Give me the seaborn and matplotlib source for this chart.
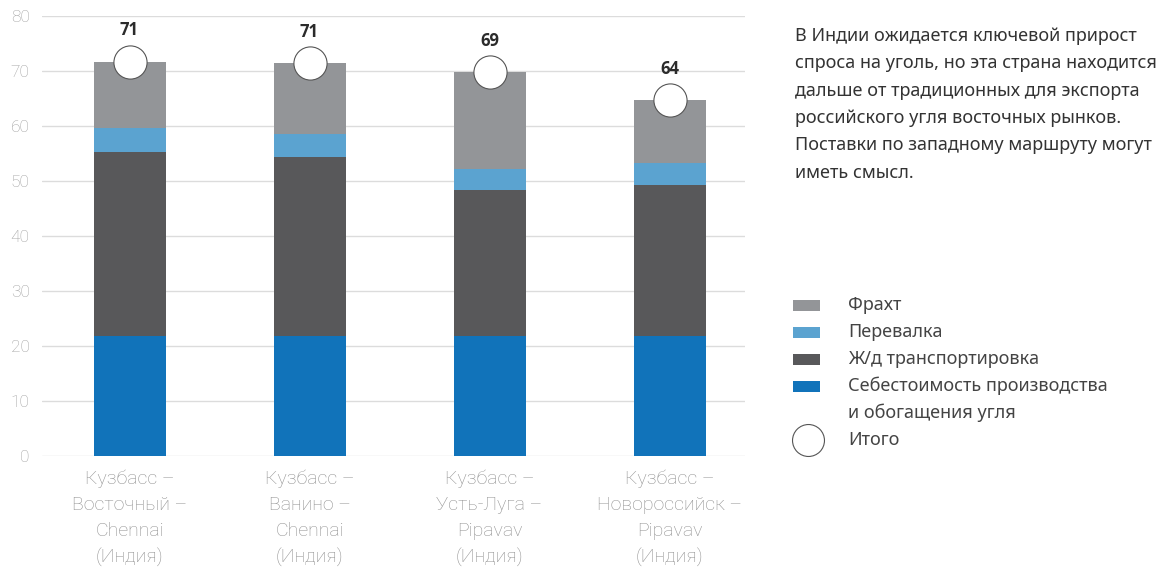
import numpy as np
import pandas as pd
import matplotlib
matplotlib.use("Agg")
import matplotlib.pyplot as plt
import seaborn as sns
from matplotlib.patches import Rectangle
from matplotlib.lines import Line2D

# ---------------- data ----------------
routes = [
    "Кузбасс –\nВосточный –\nChennai\n(Индия)",
    "Кузбасс –\nВанино –\nChennai\n(Индия)",
    "Кузбасс –\nУсть-Луга –\nPipavav\n(Индия)",
    "Кузбасс –\nНовороссийск –\nPipavav\n(Индия)",
]
production = [21.8, 21.8, 21.8, 21.8]
rail = [33.5, 32.6, 26.6, 27.5]
transship = [4.3, 4.1, 3.8, 3.9]
freight = [12.1, 12.9, 17.6, 11.5]
total_labels = ["71", "71", "69", "64"]
yticks = [0, 10, 20, 30, 40, 50, 60, 70, 80]

series_names = ["Фрахт", "Перевалка", "Ж/д транспортировка",
                "Себестоимость производства", "и обогащения угля"]
total_name = "Итого"
note_lines = [
    "В Индии ожидается ключевой прирост",
    "спроса на уголь, но эта страна находится",
    "дальше от традиционных для экспорта",
    "российского угля восточных рынков.",
    "Поставки по западному маршруту могут",
    "иметь смысл.",
]

# ---------------- style ----------------
C_FREIGHT = "#939598"
C_TRANS = "#5ba3d0"
C_RAIL = "#58585a"
C_PROD = "#1173ba"

sns.set_theme(style="white")
plt.rcParams["font.family"] = ["Noto Sans", "DejaVu Sans"]

W, H = 1161, 569
fig = plt.figure(figsize=(W / 100, H / 100), dpi=100)
ax = fig.add_axes([42 / W, 1 - 456 / H, (745 - 42) / W, (456 - 16) / H])

df = pd.DataFrame({
    "route": routes,
    "prod": production,
    "rail": rail,
    "trans": transship,
    "freight": freight,
})
df["lvl1"] = df["prod"]
df["lvl2"] = df["lvl1"] + df["rail"]
df["lvl3"] = df["lvl2"] + df["trans"]
df["lvl4"] = df["lvl3"] + df["freight"]

for col, c in [("lvl4", C_FREIGHT), ("lvl3", C_TRANS), ("lvl2", C_RAIL), ("lvl1", C_PROD)]:
    sns.barplot(data=df, x="route", y=col, color=c, width=0.4, saturation=1,
                errorbar=None, ax=ax, zorder=3, linewidth=0)

pos = np.arange(len(routes))
sns.scatterplot(x=pos, y=df["lvl4"].values, s=570, color="white",
                edgecolor="#555555", linewidth=0.8, ax=ax, zorder=5, clip_on=False)
for p, tot, lab in zip(pos, df["lvl4"].values, total_labels):
    ax.annotate(lab, (p, tot), xytext=(0, 22.5), textcoords="offset points",
                ha="center", va="center", fontsize=12, fontweight="bold",
                color="#2b2b2b", family=["Open Sans", "DejaVu Sans"])

ax.set_ylim(0, 80)
ax.set_xlim((42 - 129.5) / 180, (745 - 129.5) / 180)
ax.set_yticks(yticks)
ax.yaxis.grid(True, color="#dcdcdc", linewidth=1)
ax.set_axisbelow(True)
for s in ax.spines.values():
    s.set_visible(False)
ax.set_xlabel("")
ax.set_ylabel("")
ax.tick_params(axis="y", length=0, pad=9, labelsize=12.5, labelcolor="#a0a0a0")
ax.tick_params(axis="x", length=0, pad=10, labelsize=14, labelcolor="#8f8f8f")
for t in ax.get_yticklabels():
    t.set_family(["Roboto", "DejaVu Sans"])
    t.set_fontweight("light")
ax.set_xticks(pos)
ax.set_xticklabels(routes)
for t in ax.get_xticklabels():
    t.set_family(["Roboto", "DejaVu Sans"])
    t.set_fontweight("light")
    t.set_linespacing(1.55)

# ---------------- note text ----------------
for i, line in enumerate(note_lines):
    fig.text(795 / W, 1 - (36 + 27.3 * i) / H, line, ha="left", va="center",
             fontsize=13, color="#333333")

# ---------------- legend ----------------
leg_rows = [305, 332, 359, 386, 413, 440]
colors = [C_FREIGHT, C_TRANS, C_RAIL, C_PROD]
for i, c in enumerate(colors):
    y = leg_rows[i]
    fig.add_artist(Rectangle((793 / W, 1 - (y + 5.5) / H), 27 / W, 11 / H,
                             transform=fig.transFigure, color=c, lw=0))
for i, name in enumerate(series_names):
    fig.text(848 / W, 1 - leg_rows[i] / H, name, ha="left", va="center",
             fontsize=13, color="#444444")
fig.add_artist(Line2D([808 / W], [1 - leg_rows[5] / H], marker="o", markersize=23,
                      markerfacecolor="white", markeredgecolor="#555555",
                      markeredgewidth=0.8, transform=fig.transFigure))
fig.text(848 / W, 1 - leg_rows[5] / H, total_name, ha="left", va="center",
         fontsize=13, color="#444444")

fig.savefig("out.png", dpi=100)
